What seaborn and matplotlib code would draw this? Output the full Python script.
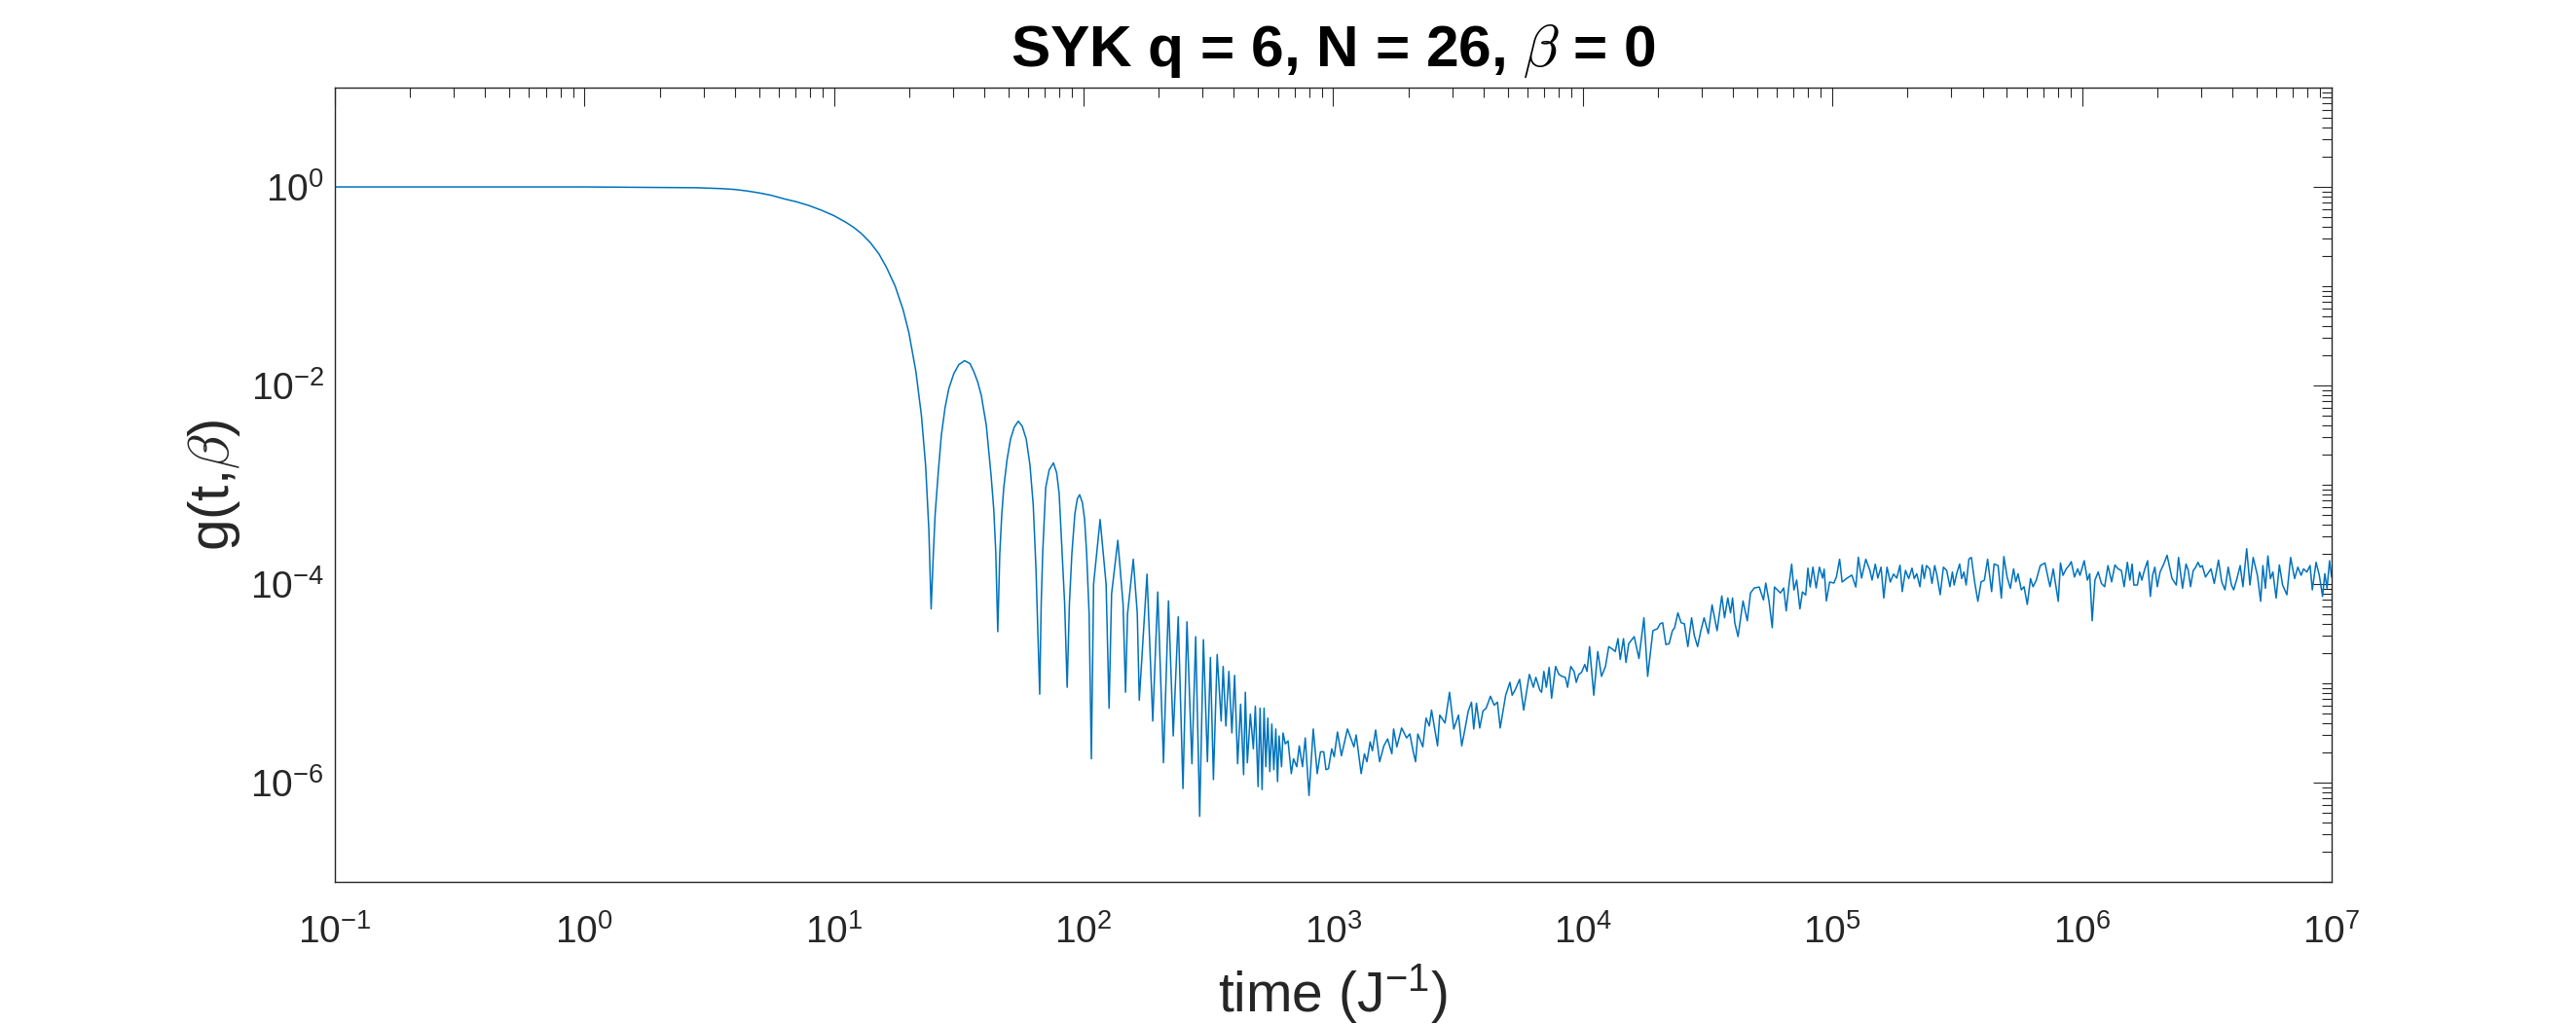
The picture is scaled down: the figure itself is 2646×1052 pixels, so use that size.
import numpy as np
import pandas as pd
import matplotlib
matplotlib.use("Agg")
import matplotlib.pyplot as plt
import seaborn as sns
from matplotlib.ticker import LogLocator, NullFormatter

# curve: log10 of time and log10 of g(t, beta)
log_t = [
    -1.0, -0.5, 0.0, 0.3, 0.45, 0.55, 0.6, 0.65, 0.7, 0.75, 0.8, 0.85,
    0.9, 0.95, 1.0, 1.05, 1.08, 1.11, 1.145, 1.18, 1.211, 1.245, 1.277, 1.30,
    1.328, 1.35, 1.367, 1.38, 1.389,
    1.398, 1.405, 1.418, 1.43, 1.445, 1.46, 1.48, 1.50, 1.523, 1.545,
    1.56, 1.575, 1.59, 1.61, 1.629, 1.64, 1.648, 1.656,
    1.664, 1.672, 1.68, 1.693, 1.707, 1.722, 1.738, 1.754, 1.770, 1.785, 1.798, 1.809, 1.824,
    1.830, 1.836, 1.848, 1.862, 1.879, 1.892, 1.902, 1.914, 1.924, 1.934,
    1.943, 1.953, 1.965, 1.975, 1.984, 1.995, 2.004, 2.012, 2.022, 2.031,
    2.040, 2.066, 2.090, 2.102,
    2.112, 2.137, 2.158, 2.168,
    2.176, 2.199, 2.215, 2.223,
    2.254, 2.277, 2.297, 2.320, 2.340, 2.359, 2.379, 2.398, 2.414, 2.434,
    2.449, 2.465, 2.480, 2.496, 2.508, 2.520, 2.535, 2.551, 2.559, 2.570,
    2.582, 2.594, 2.605, 2.617, 2.629, 2.641, 2.648, 2.656, 2.668, 2.680,
    2.688, 2.699, 2.707, 2.715, 2.723, 2.730, 2.738, 2.746, 2.754, 2.762,
    2.770,
    2.777, 2.783, 2.793, 2.799, 2.808, 2.819, 2.832, 2.841, 2.854, 2.864,
    2.877, 2.888, 2.903, 2.920, 2.936, 2.949, 2.962, 2.971, 2.981, 2.994,
    3.004, 3.017, 3.033, 3.057, 3.070, 3.083, 3.092, 3.112, 3.125, 3.135,
    3.148, 3.157, 3.170, 3.186, 3.203, 3.218, 3.235, 3.242, 3.255, 3.274,
    3.294, 3.307, 3.320, 3.330, 3.339, 3.359, 3.372, 3.385, 3.394, 3.418,
    3.427, 3.448, 3.466, 3.483, 3.502, 3.515, 3.528, 3.541, 3.554, 3.563,
    3.574, 3.587, 3.600, 3.613, 3.630, 3.645, 3.658, 3.669, 3.691, 3.708,
    3.717, 3.730, 3.747, 3.763, 3.786, 3.802, 3.812, 3.828,
    3.835, 3.844, 3.854, 3.865, 3.875, 3.891, 3.904, 3.917, 3.930, 3.939,
    3.952, 3.965, 3.974, 3.984, 3.995, 4.008, 4.017, 4.027, 4.044, 4.060,
    4.075, 4.091, 4.104, 4.121, 4.130, 4.141, 4.150, 4.163, 4.173, 4.184,
    4.206, 4.225, 4.245, 4.260, 4.281, 4.299, 4.310, 4.320, 4.333, 4.346,
    4.359, 4.368, 4.381, 4.394, 4.407, 4.421, 4.436, 4.447, 4.460, 4.473,
    4.486, 4.503, 4.518, 4.538, 4.557, 4.568, 4.581, 4.592, 4.600, 4.609,
    4.622, 4.642, 4.659, 4.672, 4.687, 4.707, 4.724, 4.733, 4.746, 4.759,
    4.768, 4.792, 4.805, 4.815, 4.827, 4.837, 4.846, 4.857, 4.870, 4.880,
    4.893, 4.902, 4.911, 4.922, 4.935, 4.948, 4.961, 4.967, 4.976, 4.989,
    5.006, 5.016, 5.029, 5.039, 5.059, 5.078, 5.094, 5.104, 5.117, 5.134,
    5.150, 5.159, 5.172, 5.182, 5.195, 5.206, 5.219, 5.232, 5.245, 5.258,
    5.271,
    5.280, 5.293, 5.306, 5.319, 5.328, 5.338, 5.351, 5.360, 5.368, 5.377,
    5.390, 5.399, 5.410, 5.419, 5.432, 5.445, 5.458, 5.471, 5.481, 5.488,
    5.498, 5.510, 5.518, 5.527, 5.536, 5.547, 5.557, 5.570, 5.583, 5.596,
    5.609, 5.622, 5.638, 5.648, 5.664, 5.677, 5.687, 5.700, 5.713, 5.726,
    5.735, 5.744, 5.757, 5.768, 5.781, 5.794, 5.804, 5.817, 5.833, 5.852,
    5.862, 5.872, 5.885, 5.905, 5.914, 5.924, 5.937, 5.948, 5.957, 5.970,
    5.983, 5.992, 6.009, 6.022, 6.031, 6.041, 6.052, 6.065, 6.078, 6.091,
    6.104, 6.119, 6.132, 6.145, 6.158, 6.169,
    6.182, 6.192, 6.201, 6.208, 6.222, 6.231, 6.240, 6.250, 6.263, 6.274,
    6.283, 6.292, 6.302, 6.313, 6.328, 6.341, 6.361, 6.378, 6.387, 6.403,
    6.417, 6.426, 6.435, 6.446, 6.456, 6.465, 6.474, 6.482, 6.495, 6.504,
    6.517, 6.530, 6.547, 6.560, 6.573, 6.586, 6.599, 6.608, 6.621, 6.634,
    6.645, 6.660, 6.673, 6.686, 6.703, 6.716, 6.725, 6.735, 6.745, 6.755,
    6.765, 6.778, 6.791, 6.804, 6.821, 6.836, 6.852, 6.865, 6.878, 6.888,
    6.901, 6.914, 6.923, 6.938, 6.951, 6.964, 6.973, 6.982, 6.992, 7.0,
]
log_g = [
    0.0, 0.0, 0.0, -0.005, -0.008, -0.017, -0.025, -0.04, -0.06, -0.085, -0.12, -0.15,
    -0.188, -0.235, -0.29, -0.36, -0.41, -0.47, -0.56, -0.675, -0.815, -1.0, -1.24, -1.47,
    -1.86, -2.3, -2.81, -3.46, -4.25,
    -3.69, -3.3, -2.86, -2.5, -2.22, -2.03, -1.88, -1.79, -1.75, -1.78,
    -1.86, -1.96, -2.1, -2.4, -2.9, -3.25, -3.68, -4.48,
    -3.7, -3.3, -3.03, -2.75, -2.54, -2.42, -2.36, -2.41, -2.54, -2.8, -3.2, -3.84, -5.11,
    -4.2, -3.69, -3.03, -2.85, -2.78, -2.88, -3.09, -3.69, -4.2, -5.04,
    -4.2, -3.69, -3.29, -3.14, -3.10, -3.18, -3.35, -3.69, -4.3, -5.76,
    -4.0, -3.35, -4.0, -5.25,
    -4.1, -3.56, -4.2, -5.09,
    -4.3, -3.75, -4.3, -5.17,
    -3.90, -5.38, -4.08, -5.80, -4.17, -5.53, -4.33, -6.06, -4.38, -5.81,
    -4.53, -6.34, -4.56, -5.79, -4.74, -5.97, -4.71, -5.38, -4.83, -5.43,
    -4.88, -5.50, -4.92, -5.81, -5.21, -5.92, -5.09, -5.80, -5.31, -5.66,
    -5.23, -6.04, -5.25, -6.07, -5.25, -5.84, -5.35, -5.89, -5.41, -5.87,
    -5.46,
    -5.99, -5.53, -5.84, -5.50, -5.61, -5.58, -5.91, -5.76, -5.84, -5.63,
    -5.84, -5.55, -6.13, -5.46, -5.91, -5.69, -5.69, -5.87, -5.86, -5.66,
    -5.74, -5.49, -5.73, -5.46, -5.55, -5.64, -5.52, -5.91, -5.71, -5.79,
    -5.59, -5.68, -5.47, -5.79, -5.63, -5.56, -5.71, -5.46, -5.64, -5.45,
    -5.55, -5.51, -5.68, -5.79, -5.51, -5.64, -5.35, -5.43, -5.27, -5.63,
    -5.32, -5.40, -5.09, -5.46, -5.32, -5.63, -5.46, -5.28, -5.19, -5.46,
    -5.20, -5.45, -5.28, -5.25, -5.13, -5.22, -5.19, -5.45, -5.12, -4.99,
    -5.12, -5.06, -4.96, -5.27, -4.91, -5.04, -4.94, -5.07,
    -5.09, -4.88, -5.04, -4.84, -5.15, -4.83, -4.91, -4.93, -4.94, -5.04,
    -4.83, -4.88, -4.99, -4.91, -4.89, -4.81, -4.88, -4.63, -5.12, -4.68,
    -4.93, -4.83, -4.63, -4.66, -4.68, -4.55, -4.76, -4.55, -4.79, -4.60,
    -4.53, -4.75, -4.34, -4.93, -4.47, -4.45, -4.40, -4.39, -4.61, -4.60,
    -4.47, -4.44, -4.29, -4.39, -4.40, -4.63, -4.34, -4.52, -4.63, -4.47,
    -4.34, -4.50, -4.21, -4.47, -4.12, -4.34, -4.14, -4.29, -4.14, -4.39,
    -4.53, -4.17, -4.37, -4.09, -4.04, -4.03, -4.16, -3.99, -4.17, -4.44,
    -4.03, -4.09, -4.04, -4.27, -3.99, -3.80, -4.06, -3.96, -4.25, -4.08,
    -4.11, -3.84, -4.03, -3.83, -4.04, -3.83, -3.94, -3.85, -4.17, -3.98,
    -3.99, -3.93, -3.75, -3.98, -3.94, -3.91, -4.03, -3.73, -3.94, -3.75,
    -3.86, -3.96, -3.80, -3.94, -3.83, -4.14, -3.83, -3.98, -3.90, -3.94,
    -3.81,
    -4.076, -3.863, -3.945, -3.840, -3.945, -3.896, -4.027, -3.808, -3.945, -3.814,
    -3.847, -3.994, -3.814, -3.912, -4.108, -3.830, -3.863, -4.027, -3.879, -4.010,
    -3.896, -3.798, -3.945, -3.879, -4.010, -3.749, -3.732, -3.978, -4.174, -3.978,
    -3.961, -3.749, -4.076, -3.798, -3.814, -4.141, -3.723, -3.929, -4.043, -3.847,
    -3.978, -3.896, -4.059, -4.027, -4.206, -3.945, -4.027, -3.961, -3.814, -3.788,
    -3.912, -4.027, -3.847, -4.174, -3.788, -3.912, -3.847, -3.814, -3.775, -3.929,
    -3.847, -3.912, -3.765, -3.961, -3.896, -4.370, -3.961, -3.879, -3.994, -4.027,
    -3.814, -3.978, -3.808, -3.847, -3.863, -4.027,
    -3.781, -3.961, -3.798, -4.010, -4.010, -3.879, -3.961, -3.863, -3.765, -4.125,
    -3.912, -3.830, -4.027, -3.879, -3.798, -3.710, -3.945, -4.010, -3.732, -4.043,
    -3.798, -3.863, -4.027, -3.863, -3.830, -3.781, -3.830, -3.814, -3.929, -3.896,
    -3.847, -3.994, -3.759, -3.978, -4.059, -3.830, -4.010, -4.059, -3.945, -3.814,
    -4.027, -3.644, -4.010, -3.732, -3.912, -4.174, -3.814, -4.043, -3.716, -3.945,
    -3.879, -4.141, -3.808, -4.010, -4.108, -3.732, -3.945, -3.830, -3.912, -3.847,
    -3.879, -3.814, -4.059, -3.781, -3.912, -4.125, -3.896, -4.043, -3.765, -3.929,
]

x_ticks = [1e-1, 1e0, 1e1, 1e2, 1e3, 1e4, 1e5, 1e6, 1e7]
x_tick_labels = [r"$\mathdefault{10^{-1}}$", r"$\mathdefault{10^{0}}$",
                 r"$\mathdefault{10^{1}}$", r"$\mathdefault{10^{2}}$",
                 r"$\mathdefault{10^{3}}$", r"$\mathdefault{10^{4}}$",
                 r"$\mathdefault{10^{5}}$", r"$\mathdefault{10^{6}}$",
                 r"$\mathdefault{10^{7}}$"]
y_ticks = [1e-6, 1e-4, 1e-2, 1e0]
y_tick_labels = [r"$\mathdefault{10^{-6}}$", r"$\mathdefault{10^{-4}}$",
                 r"$\mathdefault{10^{-2}}$", r"$\mathdefault{10^{0}}$"]

sns.set_style("white")
plt.rcParams["font.family"] = ["Liberation Sans", "DejaVu Sans"]
plt.rcParams["mathtext.fontset"] = "cm"

df = pd.DataFrame({"t": 10.0 ** np.array(log_t), "g": 10.0 ** np.array(log_g)})

ink = "#262626"
fig = plt.figure(figsize=(26.46, 10.52), dpi=100)
ax = fig.add_axes([0.13, 0.1388, 0.7751, 0.7756])
sns.lineplot(data=df, x="t", y="g", ax=ax, color="#0072BD", linewidth=1.1,
             estimator=None, sort=False)
ax.set_xscale("log")
ax.set_yscale("log")
ax.set_xlim(1e-1, 1e7)
ax.set_ylim(1e-7, 1e1)

ax.set_xticks(x_ticks, labels=x_tick_labels)
ax.set_yticks(y_ticks, labels=y_tick_labels)
ax.xaxis.set_minor_locator(LogLocator(base=10, subs=np.arange(2, 10), numticks=100))
ax.yaxis.set_minor_locator(LogLocator(base=10, subs=np.arange(1, 10), numticks=100))
ax.xaxis.set_minor_formatter(NullFormatter())
ax.yaxis.set_minor_formatter(NullFormatter())

ax.tick_params(which="both", direction="in", top=True, right=True,
               colors=ink, width=0.8)
ax.tick_params(which="major", length=13.7, labelsize=28)
ax.tick_params(which="minor", length=7.2)
ax.tick_params(axis="x", which="major", pad=24)
ax.tick_params(axis="y", which="major", pad=8)
for s in ax.spines.values():
    s.set_visible(True)
    s.set_color(ink)
    s.set_linewidth(1.0)

ax.set_xlabel(r"time ($\mathdefault{J^{-1}}$)", fontsize=41, color=ink, labelpad=8)
ax.set_ylabel(r"g(t,$\beta$)", fontsize=42, color=ink, labelpad=6)
ax.set_title(r"SYK q = 6, N = 26, $\beta$ = 0", fontsize=43.5, fontweight="bold",
             color="black", pad=16)

fig.savefig("out.png", dpi=100)
